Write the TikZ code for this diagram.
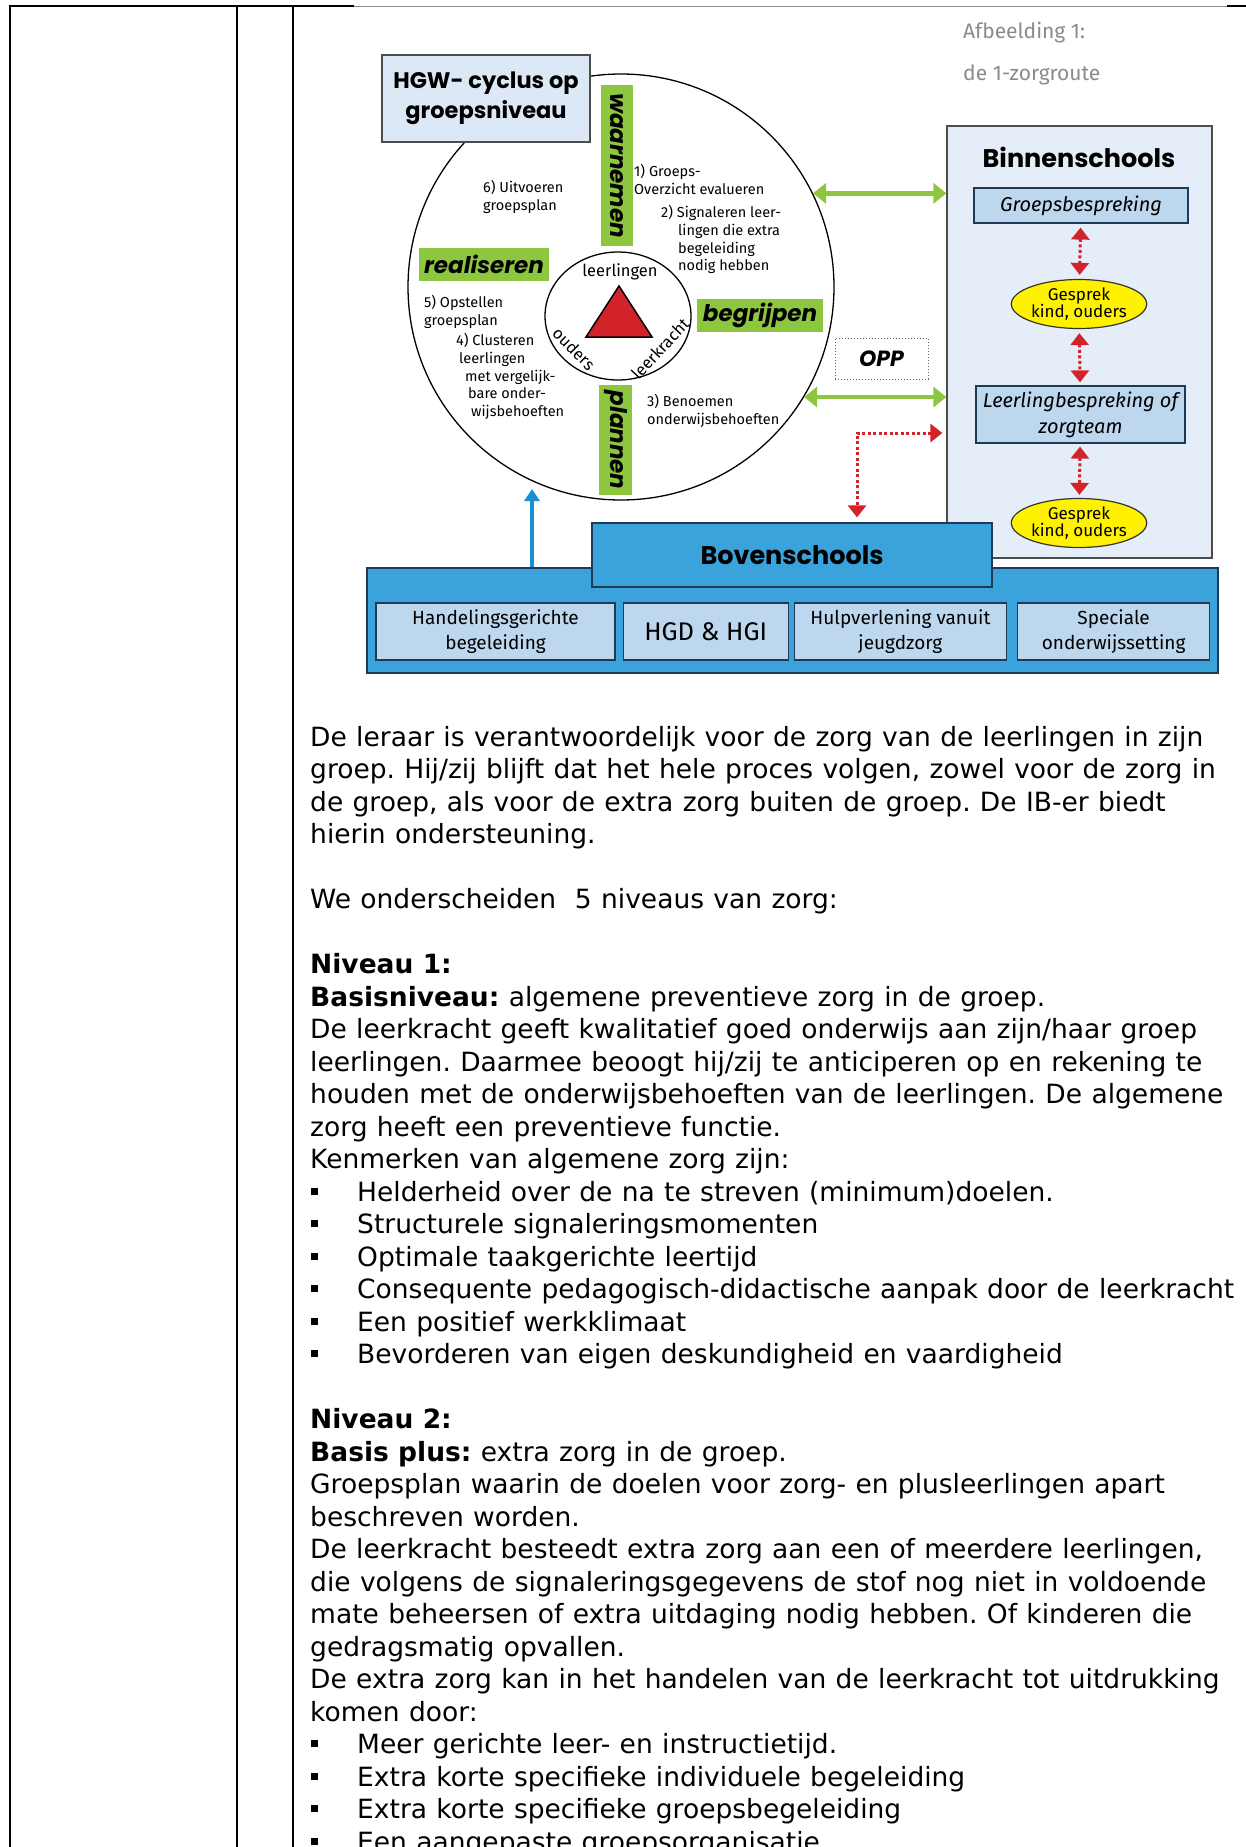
\documentclass[tikz,border=0pt]{standalone}
\usepackage{fontspec}
\setmainfont{DejaVu Sans}
\newfontfamily\futura{Fira Sans}
\newfontfamily\futzwaar{Poppins}
\usetikzlibrary{shapes.geometric,arrows.meta,positioning}

\definecolor{hgwblauw}{HTML}{DCE8F5}
\definecolor{bleekblauw}{HTML}{E4EDF8}
\definecolor{middenblauw}{HTML}{BDD7EE}
\definecolor{bovenblauw}{HTML}{3AA3DC}
\definecolor{donkerblauw}{HTML}{1F3A55}
\definecolor{groen}{HTML}{8DC63F}
\definecolor{rood}{HTML}{D2232A}
\definecolor{geel}{HTML}{FFF200}
\definecolor{pijlblauw}{HTML}{1B8FD0}
\definecolor{grijs}{HTML}{8A8A8A}

\newcommand{\opsom}{\makebox[47pt][l]{\hspace*{1pt}\rule[6.5pt]{6.5pt}{7pt}}}
\newcommand{\lopend}{\fontsize{26.5}{32.5}\selectfont\frenchspacing
  \spaceskip=0.352em plus 0.1em minus 0.05em\relax}

\tikzset{
  tabellijn/.style = {line width=2.5pt, black},
  tekst/.style = {anchor=base west, inner sep=0pt, font=\lopend},% lopende tekst
  klein/.style = {anchor=north west, inner sep=0pt, align=left,
    font=\futura\fontsize{14.5}{17.8}\selectfont},% nummers in de cyclus
  fase/.style = {rectangle, fill=groen, inner sep=0pt,
    font=\futzwaar\bfseries\itshape\fontsize{23}{26}\selectfont},
  kop/.style = {inner sep=0pt, align=center,
    font=\futzwaar\bfseries\fontsize{25.5}{30}\selectfont},
  vak/.style = {rectangle, draw=donkerblauw, fill=middenblauw, line width=1.2pt,
    align=center, inner sep=0pt, minimum height=57pt,
    font=\futura\fontsize{19}{25}\selectfont},
  gesprek/.style = {ellipse, draw=black!80, fill=geel, line width=1.2pt,
    minimum width=125pt, minimum height=49pt, inner sep=0pt, align=center,
    font=\futura\fontsize{17}{16.5}\selectfont},
  kern/.style = {font=\futura\fontsize{16.5}{16.5}\selectfont},
  groenpijl/.style = {groen, line width=4.5pt,
    {Triangle[width=20pt,length=13pt]}-{Triangle[width=20pt,length=13pt]}},
  roodpijl/.style = {rood, line width=3pt, dash pattern=on 3pt off 2.5pt,
    {Triangle[width=18pt,length=12pt]}-{Triangle[width=18pt,length=12pt]}}
}

\begin{document}
\begin{tikzpicture}[x=1pt, y=-1pt]
\useasboundingbox (0,0) rectangle (1246,1847);
\clip (0,0) rectangle (1246,1847);

% tabel
\draw[tabellijn] (10,4.75) -- (10,1847);
\draw[tabellijn] (237,4.75) -- (237,1847);
\draw[tabellijn] (293,4.75) -- (293,1847);
\draw[tabellijn] (8.75,6) -- (354,6);
\draw[tabellijn] (1227,6) -- (1246,6);
\draw[grijs, line width=0.8pt] (354,6) -- (1227,6);

% afbeelding
\node[anchor=west, inner sep=0pt, grijs, font=\futura\fontsize{21}{21}\selectfont] (afb) at (963,33) {Afbeelding 1:};
\node[anchor=west, inner sep=0pt, grijs, font=\futura\fontsize{21}{21}\selectfont] (route) at (963,75) {de 1-zorgroute};

% cyclus
\node[circle, draw, line width=1.3pt, minimum size=426pt, inner sep=0pt] (cyclus) at (621,287) {};
\node[ellipse, draw, line width=1.3pt, minimum width=146pt, minimum height=128pt, inner sep=0pt] (kern) at (618,316) {};
\draw[fill=rood, line width=1.5pt] (619,286) -- (586,337) -- (652,337) -- cycle;
\node[kern] (leerl) at (620,272) {leerlingen};
\node[kern, rotate=-45] (ouders) at (574,349) {ouders};
\node[kern, rotate=47] (leerkr) at (660,349) {leerkracht};

\node[fase, rotate=-90, minimum width=161pt, minimum height=32pt] (waarn) at (617,165.5) {waarnemen};
\node[fase, rotate=-90, minimum width=110pt, minimum height=33pt] (plan) at (615.5,440) {plannen};
\node[fase, minimum width=130pt, minimum height=33pt] (real) at (484,264.5) {realiseren};
\node[fase, minimum width=126pt, minimum height=33pt] (begr) at (760,315.5) {begrijpen};

\node[kop, rectangle, draw=black!70, fill=hgwblauw, line width=1.2pt,
  minimum width=208pt, minimum height=87pt, font=\futzwaar\bfseries\fontsize{22.5}{30}\selectfont] (hgw) at (486,98.5) {HGW- cyclus op\\groepsniveau};

\node[klein] (stap1) at (634,164) {1) Groeps-\\Overzicht evalueren};
\node[klein] (stap2) at (661,205) {2) Signaleren leer-\\\hspace*{17pt}lingen die extra\\\hspace*{17pt}begeleiding\\\hspace*{17pt}nodig hebben};
\node[klein] (stap3) at (647,394) {3) Benoemen\\onderwijsbehoeften};
\node[klein] (stap4) at (456,333) {4) Clusteren\\\hspace*{3pt}leerlingen\\\hspace*{9pt}met vergelijk-\\\hspace*{12pt}bare onder-\\\hspace*{15pt}wijsbehoeften};
\node[klein] (stap5) at (424,295) {5) Opstellen\\groepsplan};
\node[klein] (stap6) at (483,180) {6) Uitvoeren\\groepsplan};

% binnenschools
\node[rectangle, draw=black!70, fill=bleekblauw, line width=1.2pt,
  minimum width=265pt, minimum height=432pt] (binnen) at (1079.5,342) {};
\node[kop] (binnentitel) at (1079,157) {Binnenschools};
\node[vak, minimum width=214pt, minimum height=35pt, font=\futura\itshape\fontsize{20}{26}\selectfont] (groepsbespr) at (1081,205.5) {Groepsbespreking};
\node[gesprek] (gesprek1) at (1079,304) {Gesprek\\kind, ouders};
\node[vak, minimum width=209pt, font=\futura\itshape\fontsize{20}{26}\selectfont] (llbespr) at (1080.5,414.5) {Leerlingbespreking of\\zorgteam};
\node[gesprek] (gesprek2) at (1079,523) {Gesprek\\kind, ouders};

\draw[roodpijl, shorten <=4pt, shorten >=4pt] (groepsbespr) -- (gesprek1);
\draw[roodpijl, shorten <=4pt, shorten >=3pt] (gesprek1) -- (llbespr);
\draw[roodpijl, shorten <=3pt, shorten >=3pt] (llbespr) -- (gesprek2);

% OPP
\node[rectangle, draw=black!60, dotted, line width=1pt, minimum width=93pt, minimum height=41pt,
  font=\futzwaar\bfseries\itshape\fontsize{22}{22}\selectfont] (opp) at (881.5,358.5) {OPP};

\draw[groenpijl] (cyclus.26) -- (cyclus.26 -| binnen.west);
\draw[groenpijl] (cyclus.-31) -- (cyclus.-31 -| binnen.west);

% bovenschools
\node[rectangle, draw=donkerblauw, fill=bovenblauw, line width=1.2pt,
  minimum width=851pt, minimum height=105pt] (balk) at (792.5,620.5) {};
\node[kop, rectangle, draw=donkerblauw, fill=bovenblauw, line width=1.2pt,
  minimum width=400pt, minimum height=64pt] (boven) at (792,555) {Bovenschools};
\node[vak, minimum width=239pt] (hgb) at (495.5,631.5) {Handelingsgerichte\\begeleiding};
\node[vak, minimum width=165pt, right=7pt of hgb] (hgd) {\fontsize{25.5}{25}\selectfont HGD \& HGI};
\node[vak, minimum width=212pt, right=5pt of hgd] (hulp) {Hulpverlening vanuit\\jeugdzorg};
\node[vak, minimum width=192pt, right=10pt of hulp] (speciaal) {Speciale\\onderwijssetting};

\coordinate (hoek) at (857,433);
\draw[roodpijl, shorten <=4pt, shorten >=5pt] (hoek -| binnen.west) -- (hoek) -- (hoek |- boven.north);

\coordinate (blauwpunt) at (532,489);
\draw[pijlblauw, line width=4pt, -{Triangle[width=15pt,length=12pt]}] (blauwpunt |- balk.north) -- (blauwpunt);

% lopende tekst
\foreach \r/\t in {
  0/{De leraar is verantwoordelijk voor de zorg van de leerlingen in zijn},
  1/{groep. Hij/zij blijft dat het hele proces volgen, zowel voor de zorg in},
  2/{de groep, als voor de extra zorg buiten de groep. De IB-er biedt},
  3/{hierin ondersteuning.},
  5/{We onderscheiden\ \ 5 niveaus van zorg:},
  7/{\textbf{Niveau 1:}},
  8/{\textbf{Basisniveau:} algemene preventieve zorg in de groep.},
  9/{De leerkracht geeft kwalitatief goed onderwijs aan zijn/haar groep},
  10/{leerlingen. Daarmee beoogt hij/zij te anticiperen op en rekening te},
  11/{houden met de onderwijsbehoeften van de leerlingen. De algemene},
  12/{zorg heeft een preventieve functie.},
  13/{Kenmerken van algemene zorg zijn:},
  14/{\opsom Helderheid over de na te streven (minimum)doelen.},
  15/{\opsom Structurele signaleringsmomenten},
  16/{\opsom Optimale taakgerichte leertijd},
  17/{\opsom Consequente pedagogisch-didactische aanpak door de leerkracht},
  18/{\opsom Een positief werkklimaat},
  19/{\opsom Bevorderen van eigen deskundigheid en vaardigheid},
  21/{\textbf{Niveau 2:}},
  22/{\textbf{Basis plus:} extra zorg in de groep.},
  23/{Groepsplan waarin de doelen voor zorg- en plusleerlingen apart},
  24/{beschreven worden.},
  25/{De leerkracht besteedt extra zorg aan een of meerdere leerlingen,},
  26/{die volgens de signaleringsgegevens de stof nog niet in voldoende},
  27/{mate beheersen of extra uitdaging nodig hebben. Of kinderen die},
  28/{gedragsmatig opvallen.},
  29/{De extra zorg kan in het handelen van de leerkracht tot uitdrukking},
  30/{komen door:},
  31/{\opsom Meer gerichte leer- en instructietijd.},
  32/{\opsom Extra korte specifieke individuele begeleiding},
  33/{\opsom Extra korte specifieke groepsbegeleiding},
  34/{\opsom Een aangepaste groepsorganisatie}}
  \node[tekst] (r\r) at (310,{746+32.5*\r}) {\t};
\end{tikzpicture}
\end{document}
